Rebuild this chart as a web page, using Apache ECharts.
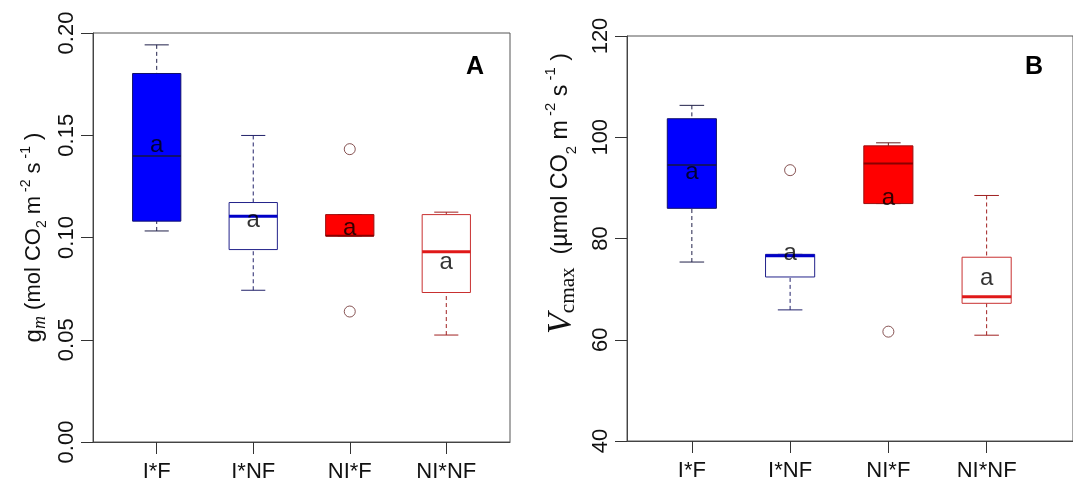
<!DOCTYPE html>
<html>
  <head>
    <meta charset="utf-8">
    <title>gm and Vcmax boxplots</title>
    <script src="https://cdn.jsdelivr.net/npm/echarts@6/dist/echarts.min.js"></script>
    <style>
      html, body { margin: 0; padding: 0; background: #fff; }
      #main { width: 1073px; height: 484px; }
    </style>
  </head>
  <body>
    <div id="main"></div>
  </body>
  <script>
    // groups
    var cats = ['I*F', 'I*NF', 'NI*F', 'NI*NF'];

    // panel A : gm  [low whisker, Q1, median, Q3, high whisker]
    var gmBox = [
      [0.1032, 0.1080, 0.1398, 0.1802, 0.1942],
      [0.0742, 0.0941, 0.1104, 0.1171, 0.1499],
      [0.1008, 0.1008, 0.1008, 0.1112, 0.1112],
      [0.0523, 0.0731, 0.0930, 0.1112, 0.1124]
    ];
    var gmOut = [[3, 0.1432], [3, 0.0638]];
    var gmLetter = [0.145, 0.1085, 0.1045, 0.088];

    // panel B : Vcmax
    var vcBox = [
      [75.35, 85.96, 94.5, 103.66, 106.3],
      [65.9, 72.4, 76.6, 76.87, 76.87],
      [86.9, 86.9, 94.8, 98.3, 98.9],
      [60.9, 67.2, 68.5, 76.3, 88.5]
    ];
    var vcOut = [[2, 93.5], [3, 61.6]];
    var vcLetter = [93.1, 77.1, 87.9, 72.1];

    // box styles per group
    var styles = [
      { fill: '#0000ff', stroke: '#10106a', med: '#101070', medW: 2, wh: '#20204a' },
      { fill: '#ffffff', stroke: '#22228a', med: '#0000c8', medW: 3, wh: '#22226a' },
      { fill: '#ff0000', stroke: '#9a1010', med: '#8a0000', medW: 2, wh: '#6a2020' },
      { fill: '#ffffff', stroke: '#c83030', med: '#e01818', medW: 3, wh: '#a02020' }
    ];
    var outColor = ['#6a2a2a', '#30307a', '#6a2a2a'];

    function boxData(arr) {
      return arr.map(function (r, i) { return [i + 1].concat(r); });
    }
    function letterData(arr) {
      return arr.map(function (v, i) { return [i + 1, v]; });
    }

    function renderBox(params, api) {
      var x = api.value(0);
      var lo = api.coord([x, api.value(1)]);
      var q1 = api.coord([x, api.value(2)]);
      var md = api.coord([x, api.value(3)]);
      var q3 = api.coord([x, api.value(4)]);
      var hi = api.coord([x, api.value(5)]);
      var w = api.size([0.5, 0])[0];
      var s = styles[params.dataIndex];
      var cx = lo[0];
      return {
        type: 'group',
        children: [
          { type: 'line', shape: { x1: cx, y1: hi[1], x2: cx, y2: q3[1] },
            style: { stroke: s.wh, lineWidth: 1, lineDash: [4, 3] } },
          { type: 'line', shape: { x1: cx, y1: lo[1], x2: cx, y2: q1[1] },
            style: { stroke: s.wh, lineWidth: 1, lineDash: [4, 3] } },
          { type: 'line', shape: { x1: cx - w / 4, y1: hi[1], x2: cx + w / 4, y2: hi[1] },
            style: { stroke: s.wh, lineWidth: 1 } },
          { type: 'line', shape: { x1: cx - w / 4, y1: lo[1], x2: cx + w / 4, y2: lo[1] },
            style: { stroke: s.wh, lineWidth: 1 } },
          { type: 'rect', shape: { x: cx - w / 2, y: q3[1], width: w, height: q1[1] - q3[1] },
            style: { fill: s.fill, stroke: s.stroke, lineWidth: 1 } },
          { type: 'line', shape: { x1: cx - w / 2, y1: md[1], x2: cx + w / 2, y2: md[1] },
            style: { stroke: s.med, lineWidth: s.medW } }
        ]
      };
    }

    var sans = 'Liberation Sans, Arial, sans-serif';
    var serif = 'Liberation Serif, Times New Roman, serif';
    var axisCol = '#444';

    function xAxisOf(gridIndex, max) {
      return {
        type: 'value', gridIndex: gridIndex, min: 0.34, max: max,
        splitLine: { show: false },
        axisLine: { show: true, lineStyle: { color: axisCol, width: 1 } },
        axisTick: { show: true, length: 12, customValues: [1, 2, 3, 4], lineStyle: { color: '#333' } },
        axisLabel: {
          customValues: [1, 2, 3, 4], margin: 19, fontSize: 22, color: '#111', fontFamily: sans,
          formatter: function (v) { return cats[Math.round(v) - 1]; }
        }
      };
    }

    function richOf(k) {
      return {
        n: { fontSize: 22 * k, fontFamily: sans, color: '#111', lineHeight: 30 * k, verticalAlign: 'middle' },
        g: { fontSize: 24 * k, fontFamily: sans, color: '#111', lineHeight: 30 * k, verticalAlign: 'middle' },
        im: { fontSize: 18 * k, fontFamily: serif, fontStyle: 'italic', color: '#111', lineHeight: 18 * k, verticalAlign: 'bottom' },
        sub: { fontSize: 14 * k, fontFamily: sans, color: '#111', lineHeight: 14 * k, verticalAlign: 'bottom' },
        sup: { fontSize: 14 * k, fontFamily: sans, color: '#111', lineHeight: 14 * k, verticalAlign: 'top' },
        V: { fontSize: 32 * k, fontFamily: serif, fontStyle: 'italic', color: '#111', lineHeight: 34 * k, verticalAlign: 'middle' },
        cm: { fontSize: 20 * k, fontFamily: serif, color: '#111', lineHeight: 20 * k, verticalAlign: 'bottom' }
      };
    }

    var letterLabel = { show: true, position: 'inside', formatter: 'a', fontSize: 24, color: '#000', fontFamily: sans };

    var myChart = echarts.init(document.getElementById('main'), null, { renderer: 'canvas' });
    var option = {
      backgroundColor: '#ffffff',
      animation: false,
      grid: [
        { left: 93, top: 33, width: 417, height: 409, show: true, borderColor: '#555', borderWidth: 1, containLabel: false },
        { left: 627, top: 36, width: 458, height: 405, show: true, borderColor: '#555', borderWidth: 1, containLabel: false }
      ],
      xAxis: [xAxisOf(0, 4.66), xAxisOf(1, 4.879)],
      yAxis: [
        {
          type: 'value', gridIndex: 0, min: 0, max: 0.2, interval: 0.05,
          splitLine: { show: false },
          axisLine: { show: true, lineStyle: { color: axisCol } },
          axisTick: { show: true, length: 12, lineStyle: { color: '#333' } },
          axisLabel: { rotate: 90, margin: 15, fontSize: 22, color: '#111', fontFamily: sans,
                       formatter: function (v) { return v.toFixed(2); } },
          name: '{g|g}{im|m}{n| (mol CO}{sub|2}{n| m}{sup| -2}{n| s}{sup| -1}{n| )}',
          nameLocation: 'middle', nameRotate: 90, nameGap: 44,
          nameTextStyle: { rich: richOf(1) }
        },
        {
          type: 'value', gridIndex: 1, min: 40, max: 120, interval: 20,
          splitLine: { show: false },
          axisLine: { show: true, lineStyle: { color: axisCol } },
          axisTick: { show: true, length: 12, lineStyle: { color: '#333' } },
          axisLabel: { rotate: 90, margin: 15, fontSize: 22, color: '#111', fontFamily: sans },
          name: '{V|V}{cm|cmax}{n|  (\u00b5mol CO}{sub|2}{n| m}{sup| -2}{n| s}{sup| -1}{n| )}',
          nameLocation: 'middle', nameRotate: 90, nameGap: 48,
          nameTextStyle: { rich: richOf(1.06), padding: [0, 0, 0, 90] }
        }
      ],
      graphic: [
        { type: 'text', x: 466, y: 55, style: { text: 'A', fontSize: 25, fontWeight: 'bold', fontFamily: sans, fill: '#000' } },
        { type: 'text', x: 1025, y: 55, style: { text: 'B', fontSize: 25, fontWeight: 'bold', fontFamily: sans, fill: '#000' } }
      ],
      series: [
        { type: 'custom', xAxisIndex: 0, yAxisIndex: 0, renderItem: renderBox,
          encode: { x: 0, y: [1, 2, 3, 4, 5] }, data: boxData(gmBox), z: 2 },
        { type: 'custom', xAxisIndex: 1, yAxisIndex: 1, renderItem: renderBox,
          encode: { x: 0, y: [1, 2, 3, 4, 5] }, data: boxData(vcBox), z: 2 },
        { type: 'scatter', xAxisIndex: 0, yAxisIndex: 0, symbol: 'circle', symbolSize: 11, z: 3,
          itemStyle: { color: 'rgba(0,0,0,0)', borderColor: outColor[0], borderWidth: 1 }, data: gmOut },
        { type: 'scatter', xAxisIndex: 1, yAxisIndex: 1, symbol: 'circle', symbolSize: 11, z: 3,
          itemStyle: {
            color: 'rgba(0,0,0,0)', borderWidth: 1,
            borderColor: function (p) { return p.dataIndex === 0 ? outColor[1] : outColor[2]; }
          },
          data: vcOut },
        { type: 'scatter', xAxisIndex: 0, yAxisIndex: 0, symbol: 'circle', symbolSize: 1, z: 4,
          itemStyle: { color: 'rgba(0,0,0,0)' }, label: letterLabel,
          data: letterData(gmLetter) },
        { type: 'scatter', xAxisIndex: 1, yAxisIndex: 1, symbol: 'circle', symbolSize: 1, z: 4,
          itemStyle: { color: 'rgba(0,0,0,0)' }, label: letterLabel,
          data: letterData(vcLetter) }
      ]
    };
    myChart.setOption(option);
  </script>
</html>
